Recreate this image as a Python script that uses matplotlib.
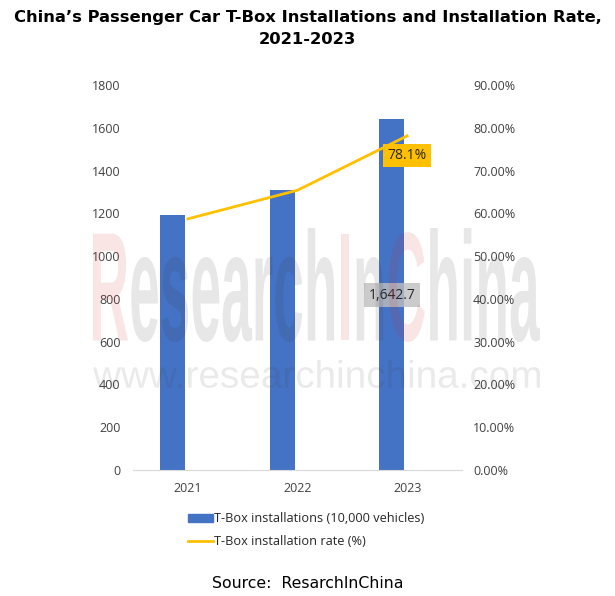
import matplotlib
matplotlib.use("Agg")
import matplotlib.pyplot as plt
from matplotlib.ticker import FuncFormatter
from matplotlib.textpath import TextPath
from matplotlib.patches import PathPatch
from matplotlib.font_manager import FontProperties
from matplotlib.transforms import Affine2D
from matplotlib.path import Path

years = ["2021", "2022", "2023"]
installs = [1192, 1309, 1642.7]
rate = [58.7, 65.4, 78.1]

plt.rcParams['font.family'] = ['Open Sans', 'DejaVu Sans']

W, H = 615, 596
fig = plt.figure(figsize=(6.15, 5.96), dpi=100)
ax = fig.add_axes([133 / W, 1 - 470 / H, 329 / W, 385 / H])
ax2 = ax.twinx()

x = list(range(len(years)))
shift = 0.14  # bars sit left of the category centre, like an Excel cluster
ax.bar([i - shift for i in x], installs, width=0.23, color="#4472C4", zorder=2)
ax2.plot(x, rate, color="#FFC000", lw=2, zorder=3)

ax.set_ylim(0, 1800)
ax.set_yticks(range(0, 1801, 200))
ax2.set_ylim(0, 90)
ax2.set_yticks(range(0, 91, 10))
ax2.yaxis.set_major_formatter(FuncFormatter(lambda v, p: f"{v:.2f}%"))
ax.set_xlim(-0.5, 2.5)
ax.set_xticks(x)
ax.set_xticklabels(years)

for a in (ax, ax2):
    for s in a.spines.values():
        s.set_visible(False)
    a.tick_params(length=0, labelsize=9, colors="#404040")
ax.tick_params(axis="y", pad=9)
ax2.tick_params(axis="y", pad=8)
ax.tick_params(axis="x", pad=9)
ax.spines["bottom"].set_visible(True)
ax.spines["bottom"].set_color("#d9d9d9")


# watermark built from scaled text paths
def watermark(pieces, prop, box, alpha):
    x0, y0, x1, y1 = box
    paths = []
    off = 0
    for s, col in pieces:
        tp = TextPath((off, 0), s, prop=prop)
        paths.append((tp, col))
        w, h, d = matplotlib.textpath.text_to_path.get_text_width_height_descent(s, prop, ismath=False)
        off += w
    allp = Path.make_compound_path(*[p for p, c in paths])
    ext = allp.get_extents()
    sx = (x1 - x0) / ext.width
    sy = (y1 - y0) / ext.height
    tr = Affine2D().translate(-ext.x0, -ext.y0).scale(sx, sy).translate(x0, y0)
    for p, col in paths:
        patch = PathPatch(tr.transform_path(p), fc=col, ec="none", alpha=alpha,
                          transform=None, zorder=1)
        fig.add_artist(patch)


big = FontProperties(family="Liberation Sans", weight="bold")
pink, grey = "#d83030", "#404040"
watermark([("R", pink), ("esearch", grey), ("I", pink), ("n", grey), ("C", pink), ("hina", grey)],
          big, (93, H - 342, 540, H - 228), 0.12)
small = FontProperties(family="Liberation Sans")
watermark([("www.researchinchina.com", grey)], small, (93, H - 388, 540, H - 360), 0.11)

# data labels
ax.text(x[2] - shift, 818, f"{installs[2]:,.1f}", ha="center", va="center", fontsize=10, color="#262626",
        bbox=dict(boxstyle="square,pad=0.35", fc="#bfbfbf", ec="none", alpha=0.8), zorder=6)
ax2.text(x[2], rate[2] - 4.6, f"{rate[2]}%", ha="center", va="center", fontsize=10, color="#262626",
         bbox=dict(boxstyle="square,pad=0.3", fc="#FFC000", ec="none"), zorder=6)

fig.suptitle("China’s Passenger Car T-Box Installations and Installation Rate,\n2021-2023",
             fontsize=11.8, fontweight="bold", y=0.983, family="DejaVu Sans", linespacing=1.55)

h1 = plt.Rectangle((0, 0), 1, 1, color="#4472C4")
h2 = plt.Line2D([0], [0], color="#FFC000", lw=2)
fig.legend([h1, h2], ["T-Box installations (10,000 vehicles)", "T-Box installation rate (%)"],
           loc="upper left", bbox_to_anchor=(176 / W, 1 - 501 / H), frameon=False, fontsize=9.2,
           handlelength=2.0, handleheight=0.6, handletextpad=0.1, labelspacing=0.75,
           labelcolor="#262626")

fig.text(0.5, 1 - 583 / H, "Source:  ResarchInChina", ha="center", va="center", fontsize=11.3,
         family="DejaVu Sans")

fig.savefig("out.png", dpi=100)
